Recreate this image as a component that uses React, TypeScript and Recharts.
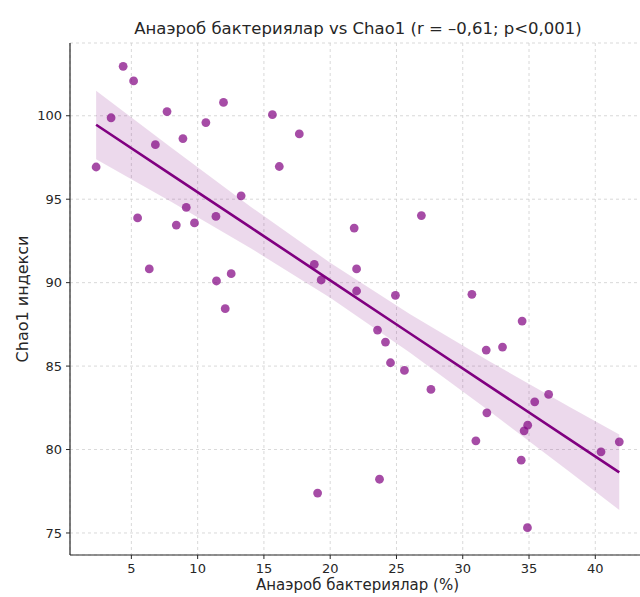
import React from "react";
import {
  ComposedChart,
  Scatter,
  Line,
  Area,
  XAxis,
  YAxis,
  CartesianGrid,
} from "recharts";

// anaerobic bacteria share (%) and Chao1 index
const anaerobX = [
  2.34, 3.47, 4.38, 5.17, 5.47, 6.35, 6.81, 7.69, 8.39, 8.89,
  9.14, 9.76, 10.62, 11.38, 11.42, 11.95, 12.08, 12.53, 13.28, 15.64,
  16.16, 17.67, 18.8, 19.05, 19.32, 21.81, 21.99, 21.99, 23.57, 23.72,
  24.17, 24.55, 24.92, 25.6, 26.88, 27.6, 30.69, 30.99, 31.77, 31.82,
  33.0, 34.48, 34.41, 34.63, 34.9, 34.88, 35.43, 36.48, 40.43, 41.81,
];
const chao1Y = [
  96.93, 99.88, 102.96, 102.09, 93.88, 90.82, 98.27, 100.25, 93.45, 98.63,
  94.51, 93.58, 99.59, 93.97, 90.1, 100.8, 88.44, 90.54, 95.2, 100.07,
  96.96, 98.91, 91.1, 77.39, 90.16, 93.27, 90.82, 89.5, 87.16, 78.22,
  86.44, 85.2, 89.24, 84.74, 94.02, 83.6, 89.3, 80.52, 85.96, 82.2,
  86.14, 87.7, 79.36, 81.12, 81.46, 75.32, 82.86, 83.3, 79.86, 80.46,
];

// regression line and 95% CI band
const fitX = [2.34, 8, 14, 20, 26, 32, 38, 41.81];
const fitY = [99.46, 96.47, 93.31, 90.14, 86.97, 83.8, 80.64, 78.63];
const ciLow = [97.4, 94.84, 92.06, 89.09, 85.82, 82.31, 78.7, 76.38];
const ciHigh = [101.5, 98.1, 94.55, 91.19, 88.12, 85.29, 82.58, 80.9];

const xTicks = [5, 10, 15, 20, 25, 30, 35, 40];
const yTicks = [75, 80, 85, 90, 95, 100];

const points = anaerobX.map((x, i) => ({ x, y: chao1Y[i] }));
const fitData = fitX.map((x, i) => ({ x, y: fitY[i] }));
const bandData = fitX.map((x, i) => ({ x, band: [ciLow[i], ciHigh[i]] }));

const FONT = "'DejaVu Sans', sans-serif";
const tickStyle = { fontSize: 13, fill: "#262626", fontFamily: FONT };

const Dot = (p: any) => (
  <circle cx={p.cx} cy={p.cy} r={4.4} fill="#800080" fillOpacity={0.7} />
);

export default function App() {
  return (
    <div
      style={{
        position: "absolute",
        left: 0,
        top: 0,
        width: 640,
        height: 597,
        overflow: "hidden",
        background: "#fff",
        fontFamily: FONT,
      }}
    >
      <div
        style={{
          position: "absolute",
          left: 0,
          right: 0,
          top: 19,
          textAlign: "center",
          paddingLeft: 76,
          fontSize: 16.5,
          color: "#262626",
          whiteSpace: "nowrap",
        }}
      >
        Анаэроб бактериялар vs Chao1 (r = –0,61; p&lt;0,001)
      </div>
      <ComposedChart
        width={660}
        height={597}
        margin={{ top: 43, right: 15, bottom: 0, left: 0 }}
      >
        <CartesianGrid stroke="#cfcfcf" strokeDasharray="3 3" strokeWidth={0.8} />
        <XAxis
          type="number"
          dataKey="x"
          domain={[0.37, 43.75]}
          ticks={xTicks}
          allowDataOverflow
          height={42}
          tickSize={4}
          tickMargin={5}
          tick={tickStyle}
          stroke="#262626"
          axisLine={{ stroke: "#262626", strokeWidth: 1.2 }}
          tickLine={{ stroke: "#262626" }}
        />
        <YAxis
          type="number"
          dataKey="y"
          domain={[73.68, 104.36]}
          ticks={yTicks}
          allowDataOverflow
          width={70}
          tickSize={4}
          tickMargin={4}
          tick={tickStyle}
          stroke="#262626"
          axisLine={{ stroke: "#262626", strokeWidth: 1.2 }}
          tickLine={{ stroke: "#262626" }}
        />
        <Area
          data={bandData}
          dataKey="band"
          type="linear"
          stroke="none"
          fill="#800080"
          fillOpacity={0.15}
          isAnimationActive={false}
        />
        <Scatter data={points} dataKey="y" shape={Dot} isAnimationActive={false} />
        <Line
          data={fitData}
          dataKey="y"
          type="linear"
          stroke="#800080"
          strokeWidth={2.6}
          dot={false}
          activeDot={false}
          isAnimationActive={false}
        />
      </ComposedChart>
      <div
        style={{
          position: "absolute",
          left: 70,
          width: 575,
          top: 578,
          textAlign: "center",
          fontSize: 15,
          lineHeight: "15px",
          color: "#262626",
          whiteSpace: "nowrap",
        }}
      >
        Анаэроб бактериялар (%)
      </div>
      <div
        style={{
          position: "absolute",
          left: 22,
          top: 299,
          transform: "translate(-50%, -50%) rotate(-90deg)",
          fontSize: 16,
          color: "#262626",
          whiteSpace: "nowrap",
        }}
      >
        Chao1 индекси
      </div>
    </div>
  );
}
